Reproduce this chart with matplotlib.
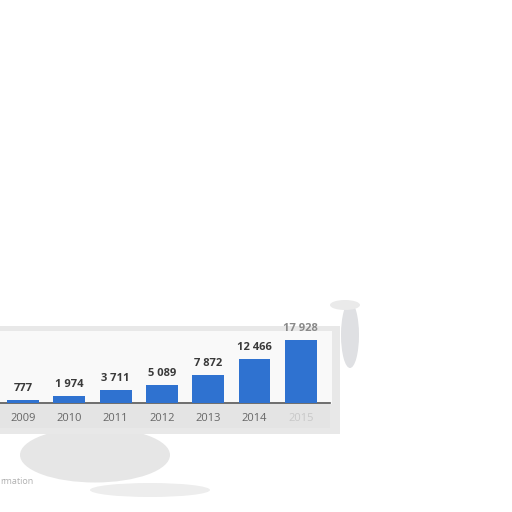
import numpy as np
import matplotlib.pyplot as plt
from matplotlib.patches import Rectangle, Ellipse

# data
years = ["2009", "2010", "2011", "2012", "2013", "2014", "2015"]
values = [777, 1974, 3711, 5089, 7872, 12466, 17928]
value_labels = ["777", "1 974", "3 711", "5 089", "7 872", "12 466", "17 928"]

W = H = 512

fig = plt.figure(figsize=(5.12, 5.12), dpi=100)
fig.patch.set_facecolor("white")

def px_rect(x0, y0, x1, y1, **kw):
    # rectangle in image pixel coords (y from top)
    return Rectangle((x0 / W, 1 - y1 / H), (x1 - x0) / W, (y1 - y0) / H,
                     transform=fig.transFigure, **kw)

def px_ell(cx, cy, w, h, **kw):
    return Ellipse((cx / W, 1 - cy / H), w / W, h / H,
                   transform=fig.transFigure, **kw)

# blurry grey backdrop pieces
bg = [
    px_ell(95, 455, 150, 55, color="#e6e6e6"),
    px_ell(150, 490, 120, 14, color="#ededed"),
    px_ell(350, 335, 18, 66, color="#dfe0e3"),
    px_ell(345, 305, 30, 10, color="#eaeaea"),
    px_rect(0, 326, 340, 434, color="#e8e8e8"),
    px_rect(0, 331, 332, 404, color="#f9f9f9"),
    px_rect(0, 404, 330, 428, color="#e4e4e4"),
]
for p in bg:
    p.set_linewidth(0)
    p.set_zorder(-5)
    fig.patches.append(p)

# axes placed so bars sit where they are in the picture
ax_left, ax_right = 0, 330
ax_top, ax_bottom = 330, 403
ax = fig.add_axes([ax_left / W, 1 - ax_bottom / H,
                   (ax_right - ax_left) / W, (ax_bottom - ax_top) / H])
ax.set_zorder(2)
ax.patch.set_alpha(0)

step = 46.3
x0 = 23
ax.set_xlim(-x0 / step, (ax_right - x0) / step)
ax.set_ylim(0, (ax_bottom - ax_top) / 63 * 17928)

x = np.arange(len(years))
ax.bar(x, values, width=0.69, color="#2f72d0", zorder=3)

for i, (v, lab) in enumerate(zip(values, value_labels)):
    col = "#8a8a8a" if i == len(values) - 1 else "#3a3a3a"
    ax.text(i, v + 1700, lab, ha="center", va="bottom", fontsize=8,
            family="Open Sans", fontweight="bold", color=col,
            zorder=4, clip_on=False)

ax.set_xticks(x)
ax.set_xticklabels(years, fontsize=8, family="Open Sans")
for i, t in enumerate(ax.get_xticklabels()):
    t.set_color("#c8c8c8" if i == len(years) - 1 else "#666666")
ax.tick_params(axis="x", length=0, pad=7)
ax.set_yticks([])
for s in ["top", "right", "left"]:
    ax.spines[s].set_visible(False)
ax.spines["bottom"].set_color("#555555")
ax.spines["bottom"].set_linewidth(1.2)

fig.text(0 / W, 1 - 481 / H, "rmation", fontsize=6.5, color="#b0b0b0",
         family="Open Sans", va="center", ha="left")

fig.savefig("out.png", dpi=100, facecolor="white")
